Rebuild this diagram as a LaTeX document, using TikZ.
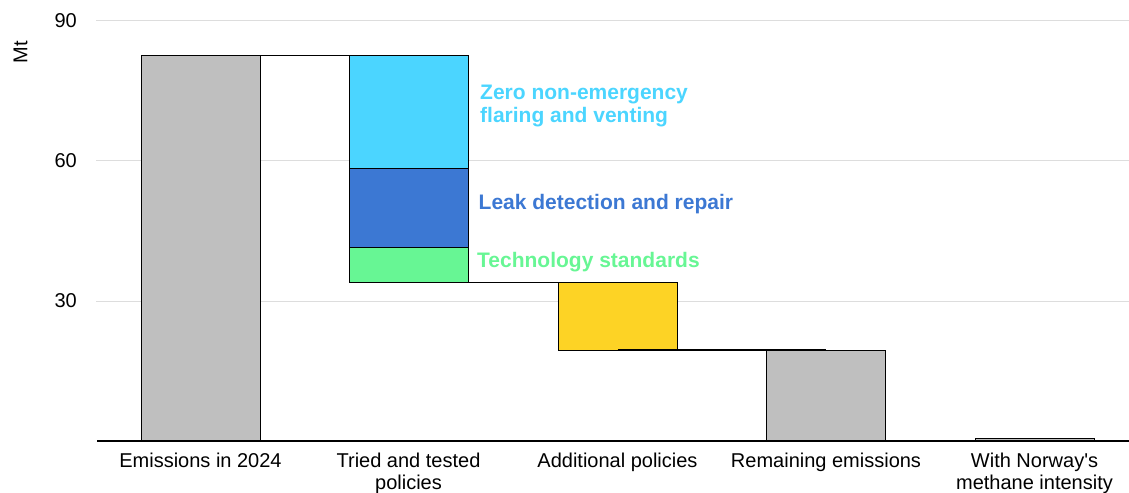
\documentclass[tikz,border=0pt]{standalone}
\usepackage{fontspec}
\setmainfont{Liberation Sans}
\usetikzlibrary{positioning}
\definecolor{bargray}{HTML}{BFBFBF}
\definecolor{flaring}{HTML}{4BD5FF}
\definecolor{leak}{HTML}{3C78D3}
\definecolor{techstd}{HTML}{67F694}
\definecolor{additional}{HTML}{FDD325}
\definecolor{gridgray}{HTML}{DDDDDD}
\tikzset{
    bar/.style={draw=black, line width=0.9pt},
    link/.style={draw=black, line width=1.2pt},
    gridline/.style={draw=gridgray, line width=1pt},
    tick/.style={anchor=east, inner sep=0pt, font=\fontsize{20}{20}\selectfont},
    category/.style={anchor=north, align=center, inner sep=0pt, font=\fontsize{20}{22}\selectfont},
    lever/.style={inner sep=0pt, align=left, font=\bfseries\fontsize{21}{22.5}\selectfont}
}
\begin{document}
\begin{tikzpicture}[x=1pt, y=4.6667pt]
    \useasboundingbox (0, -11.14) rectangle (1129, 94.5);
    \foreach \v in {30, 60, 90} {
        \draw[gridline] (96, \v) -- (1129, \v);
        \node[tick] (tick\v) at (77, \v) {\v};
    }
    \node[rotate=90, font=\fontsize{20}{20}\selectfont] (unit) at (20.5, 83.3) {Mt};

    \draw[bar, fill=bargray] (141, 0) rectangle (260, 82.6);
    \draw[bar, fill=flaring] (349, 58.4) rectangle (468, 82.6);
    \draw[bar, fill=leak] (349, 41.5) rectangle (468, 58.4);
    \draw[bar, fill=techstd] (349, 34.0) rectangle (468, 41.5);
    \draw[bar, fill=additional] (558, 19.5) rectangle (677, 34.0);
    \draw[bar, fill=bargray] (766.5, 0) rectangle (885.5, 19.5);
    \draw[bar, fill=bargray] (975, 0) rectangle (1094, 0.64);

    \coordinate (e24) at (200.5, 82.6);
    \coordinate (tried top) at (408.5, 82.6);
    \coordinate (tried bot) at (408.5, 34.0);
    \coordinate (add top) at (617.5, 34.0);
    \coordinate (add bot) at (617.5, 19.5);
    \coordinate (remain) at (826, 19.5);
    \draw[link] (e24) -- (tried top);
    \draw[link] (tried bot) -- (add top);
    \draw[link] (add bot) -- (remain);

    \draw[line width=1.3pt] (97, 0) -- (1129, 0);

    \node[lever, text=flaring, anchor=north west] (flare) at (480, 76.3) {Zero non-emergency\\flaring and venting};
    \node[lever, text=leak, anchor=base west] (ldar) at (478.5, 49.5) {Leak detection and repair};
    \node[lever, text=techstd, anchor=base west] (tech) at (477, 37.2) {Technology standards};

    \node[category] (cat1) at (200.5, -2.6) {Emissions in 2024};
    \node[category] (cat2) at (408.5, -2.6) {Tried and tested\\policies};
    \node[category] (cat3) at (617.5, -2.6) {Additional policies};
    \node[category] (cat4) at (826, -2.6) {Remaining emissions};
    \node[category] (cat5) at (1034.5, -2.6) {With Norway\textquotesingle s\\methane intensity};
\end{tikzpicture}
\end{document}
